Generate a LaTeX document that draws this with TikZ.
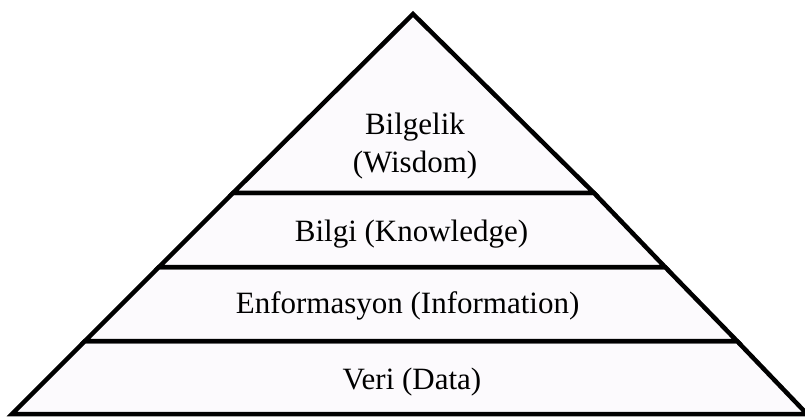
\documentclass[tikz,border=0pt]{standalone}
\usepackage{fontspec}
\setmainfont{Liberation Serif}
\definecolor{pyrfill}{RGB}{252,250,253}
\tikzset{
  layer/.style={draw=black, fill=pyrfill, line width=4.5pt, line join=miter},
  lbl/.style={anchor=base, inner sep=0pt, font=\fontsize{31}{36}\selectfont, text=black}
}
\begin{document}
\begin{tikzpicture}[x=1pt,y=1pt]
\useasboundingbox (0,0) rectangle (805,418);
\coordinate (apex) at (413,404);
\coordinate (L1) at (233,225); \coordinate (R1) at (594,225);
\coordinate (L2) at (159,151); \coordinate (R2) at (665,151);
\coordinate (L3) at (85,77);   \coordinate (R3) at (737,77);
\coordinate (L4) at (12,4);    \coordinate (R4) at (807,4);
\draw[layer] (L4) -- (R4) -- (R3) -- (L3) -- cycle;
\draw[layer] (L3) -- (R3) -- (R2) -- (L2) -- cycle;
\draw[layer] (L2) -- (R2) -- (R1) -- (L1) -- cycle;
\draw[layer] (L1) -- (R1) -- (apex) -- cycle;
\node[lbl] (wis1) at (415,283) {Bilgelik};
\node[lbl] (wis2) at (415,245) {(Wisdom)};
\node[lbl] (know) at (411.5,176) {Bilgi (Knowledge)};
\node[lbl] (info) at (407.6,105) {Enformasyon (Information)};
\node[lbl] (data) at (412,29) {Veri (Data)};
\end{tikzpicture}
\end{document}
